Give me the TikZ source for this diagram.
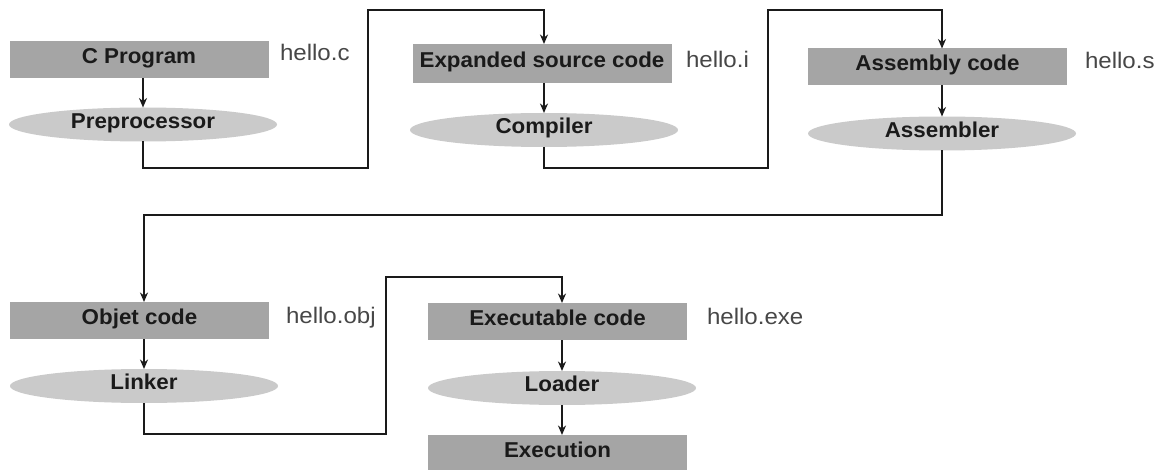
\documentclass[tikz,border=0pt]{standalone}
\usepackage{fontspec}
\setmainfont{Liberation Sans}
\newfontfamily\stagefont[FakeStretch=1.04]{Liberation Sans}
\newfontfamily\filefont[FakeStretch=1.07]{Liberation Sans}
\usetikzlibrary{arrows.meta,shapes.geometric}
\definecolor{boxgray}{HTML}{A5A5A5}
\definecolor{ellgray}{HTML}{CACACA}
\definecolor{labgray}{HTML}{474747}
\definecolor{ink}{HTML}{1A1A1A}
\tikzset{
  x=1pt, y=-1pt,
  every node/.style={inner sep=0pt, outer sep=0pt, text height=0.74em, text depth=0.0em},
  stagebox/.style={rectangle, fill=boxgray, minimum width=259pt, minimum height=37pt,
    font=\stagefont\fontsize{21.5}{24}\selectfont\bfseries, text=ink},
  toolell/.style={ellipse, fill=ellgray, minimum width=268pt, minimum height=34pt,
    font=\stagefont\fontsize{21.5}{24}\selectfont\bfseries, text=ink},
  filelabel/.style={anchor=west, font=\filefont\fontsize{22.5}{24}\selectfont, text=labgray},
  conn/.style={draw=ink, line width=1.8pt, -{Stealth[length=9.5pt,width=8pt]}},
  link/.style={draw=ink, line width=1.8pt}
}
\begin{document}
\begin{tikzpicture}
\useasboundingbox (0,0) rectangle (1158,470);
\clip (0,0) rectangle (1158,470);
\fill[white] (0,0) rectangle (1158,470);

% first row
\node[stagebox] (b1) at (139,59.5) {C Program};
\node[toolell]  (e1) at (143,124.5) {Preprocessor};
\node[filelabel] (l1) at (280,56.5) {hello.c};

\node[stagebox, minimum height=39pt] (b2) at (542,63.5) {Expanded source code};
\node[toolell]  (e2) at (544,130) {Compiler};
\node[filelabel] (l2) at (686,64) {hello.i};

\node[stagebox] (b3) at (937.5,67) {Assembly code};
\node[toolell]  (e3) at (942,133.5) {Assembler};
\node[filelabel] (l3) at (1085,65) {hello.s};

% second row
\node[stagebox] (b4) at (139.5,320.5) {Objet code};
\node[toolell]  (e4) at (144,386) {Linker};
\node[filelabel] (l4) at (286,319.5) {hello.obj};

\node[stagebox] (b5) at (557.5,321.5) {Executable code};
\node[toolell]  (e5) at (562,388) {Loader};
\node[filelabel] (l5) at (707,320.5) {hello.exe};

\node[stagebox] (b6) at (557.5,453.5) {Execution};

% arrows within each stage
\draw[conn] (e1 |- b1.south) -- (e1.north);
\draw[conn] (e2 |- b2.south) -- (e2.north);
\draw[conn] (e3 |- b3.south) -- (e3.north);
\draw[conn] (e4 |- b4.south) -- (e4.north);
\draw[conn] (e5 |- b5.south) -- (e5.north);
\draw[conn] (e5.south) -- (e5 |- b6.north);

% routes between stages
\coordinate (r1a) at (368,168);
\coordinate (r1b) at (368,10);
\draw[conn] (e1.south) |- (r1a) -- (r1b) -| (e2 |- b2.north);

\coordinate (r2a) at (768,168);
\coordinate (r2b) at (768,10);
\draw[conn] (e2.south) |- (r2a) -- (r2b) -| (e3 |- b3.north);

\coordinate (r3a) at (942,215);
\draw[conn] (e3.south) -- (r3a) -| (e4 |- b4.north);

\coordinate (r4a) at (386,434);
\coordinate (r4b) at (386,277);
\draw[conn] (e4.south) |- (r4a) -- (r4b) -| (e5 |- b5.north);
\end{tikzpicture}
\end{document}
